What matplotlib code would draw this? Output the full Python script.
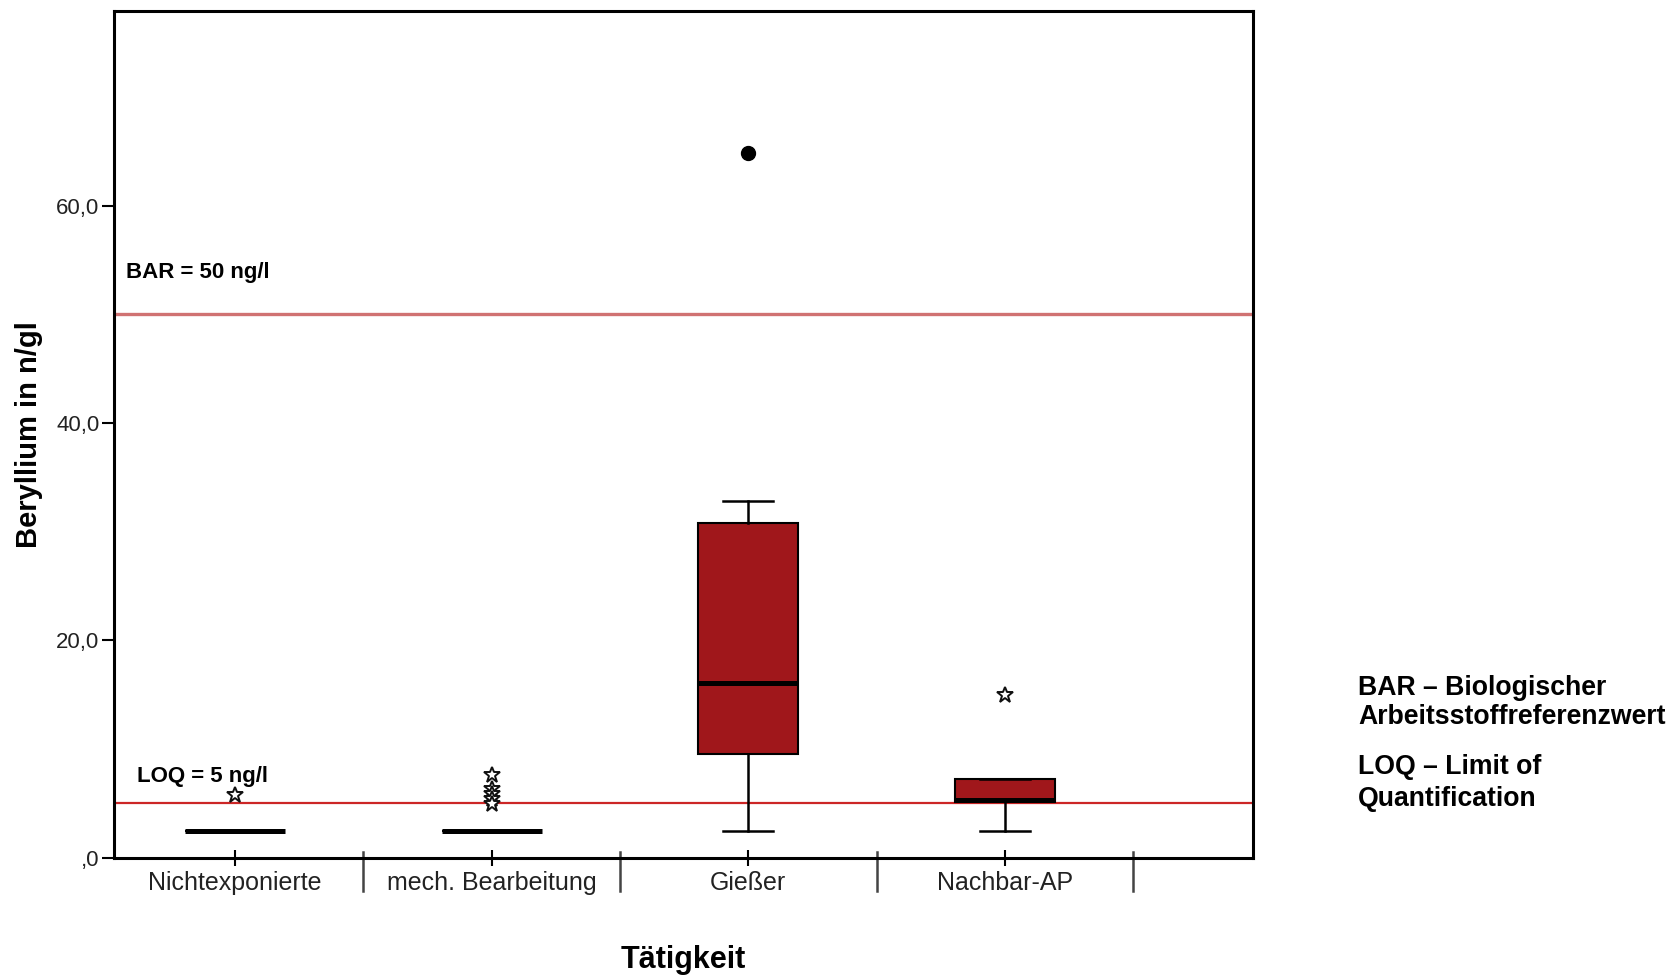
import matplotlib
matplotlib.use("Agg")
import matplotlib.pyplot as plt

plt.rcParams['font.family'] = ['Liberation Sans', 'DejaVu Sans']

categories = ['Nichtexponierte', 'mech. Bearbeitung', 'Gießer', 'Nachbar-AP']
q1 = [2.5, 2.5, 9.5, 5.1]
median = [2.5, 2.5, 16.1, 5.3]
q3 = [2.5, 2.5, 30.8, 7.2]
whisker_low = [2.5, 2.5, 2.5, 2.5]
whisker_high = [2.5, 2.5, 32.8, 7.2]
outliers = [[], [], [64.8], []]
extremes = [[5.8], [7.6, 6.3, 5.9, 5.4, 4.9], [], [15.0]]

bar_value = 50
loq_value = 5
y_ticks = [0, 20, 40, 60]

box_red = '#A0171B'

fig = plt.figure(figsize=(16.8, 9.76), dpi=100)
ax = fig.add_axes([113.5 / 1680, 1 - 857.7 / 976, (1253 - 113.5) / 1680, (857.7 - 11) / 976])

stats = []
for i, name in enumerate(categories):
    stats.append(dict(label=name, med=median[i], q1=q1[i], q3=q3[i],
                      whislo=whisker_low[i], whishi=whisker_high[i], fliers=[]))

positions = list(range(len(categories)))
ax.bxp(stats, positions=positions, widths=0.39, capwidths=0.195,
       patch_artist=True, showfliers=False,
       boxprops=dict(facecolor=box_red, edgecolor='black', linewidth=1.5),
       medianprops=dict(color='black', linewidth=3.6, solid_capstyle='butt'),
       whiskerprops=dict(color='black', linewidth=1.8),
       capprops=dict(color='black', linewidth=1.8))

# outliers as dots, extreme values as stars
for pos, vals in zip(positions, outliers):
    if vals:
        ax.plot([pos] * len(vals), vals, 'o', color='black', markersize=10, zorder=4)
for pos, vals in zip(positions, extremes):
    if vals:
        ax.plot([pos] * len(vals), vals, '*', markerfacecolor='white',
                markeredgecolor='#111111', markeredgewidth=1.4, markersize=12, zorder=4)

# reference lines
ax.axhline(bar_value, color='#D07272', linewidth=2.4, zorder=1)
ax.axhline(loq_value, color='#CC2626', linewidth=1.6, zorder=1)
ax.text(0.011, 53.35, 'BAR = 50 ng/l', transform=ax.get_yaxis_transform(),
        fontsize=16, fontweight='bold', va='baseline', ha='left')
ax.text(0.0204, 6.98, 'LOQ = 5 ng/l', transform=ax.get_yaxis_transform(),
        fontsize=16, fontweight='bold', va='baseline', ha='left')

ax.set_xlim(-0.474, 3.967)
ax.set_ylim(0, 77.9)

ax.set_yticks(y_ticks)
ax.set_yticklabels([f'{v:.1f}'.replace('.', ',').lstrip('0') if v == 0 else
                    f'{v:.1f}'.replace('.', ',') for v in y_ticks])
ax.set_xticks(positions)
ax.set_xticklabels(categories)

ax.tick_params(axis='y', direction='out', length=9, width=1.5, pad=1,
               labelsize=16, labelcolor='#222222')
ax.tick_params(axis='x', direction='inout', length=11, width=1.5, pad=4,
               labelsize=18, labelcolor='#222222')

for spine in ax.spines.values():
    spine.set_linewidth(2.2)

# group separators below the axis
for sep in [0.5, 1.5, 2.5, 3.5]:
    ax.plot([sep, sep], [0.0067, -0.0393], transform=ax.get_xaxis_transform(),
            color='#444444', linewidth=1.8, clip_on=False)

ax.set_xlabel('Tätigkeit', fontsize=22, fontweight='bold', labelpad=36)
ax.set_ylabel('Beryllium in n/gl', fontsize=21, fontweight='bold')
ax.yaxis.set_label_coords(-0.0618, 0.5)

notes = ['BAR – Biologischer', 'Arbeitsstoffreferenzwert', 'LOQ – Limit of', 'Quantification']
note_baselines = [695, 724, 774, 806]
for line, yb in zip(notes, note_baselines):
    fig.text(1358 / 1680, 1 - yb / 976, line, fontsize=19.2, fontweight='bold',
             va='baseline', ha='left')

fig.savefig('out.png', dpi=100)
